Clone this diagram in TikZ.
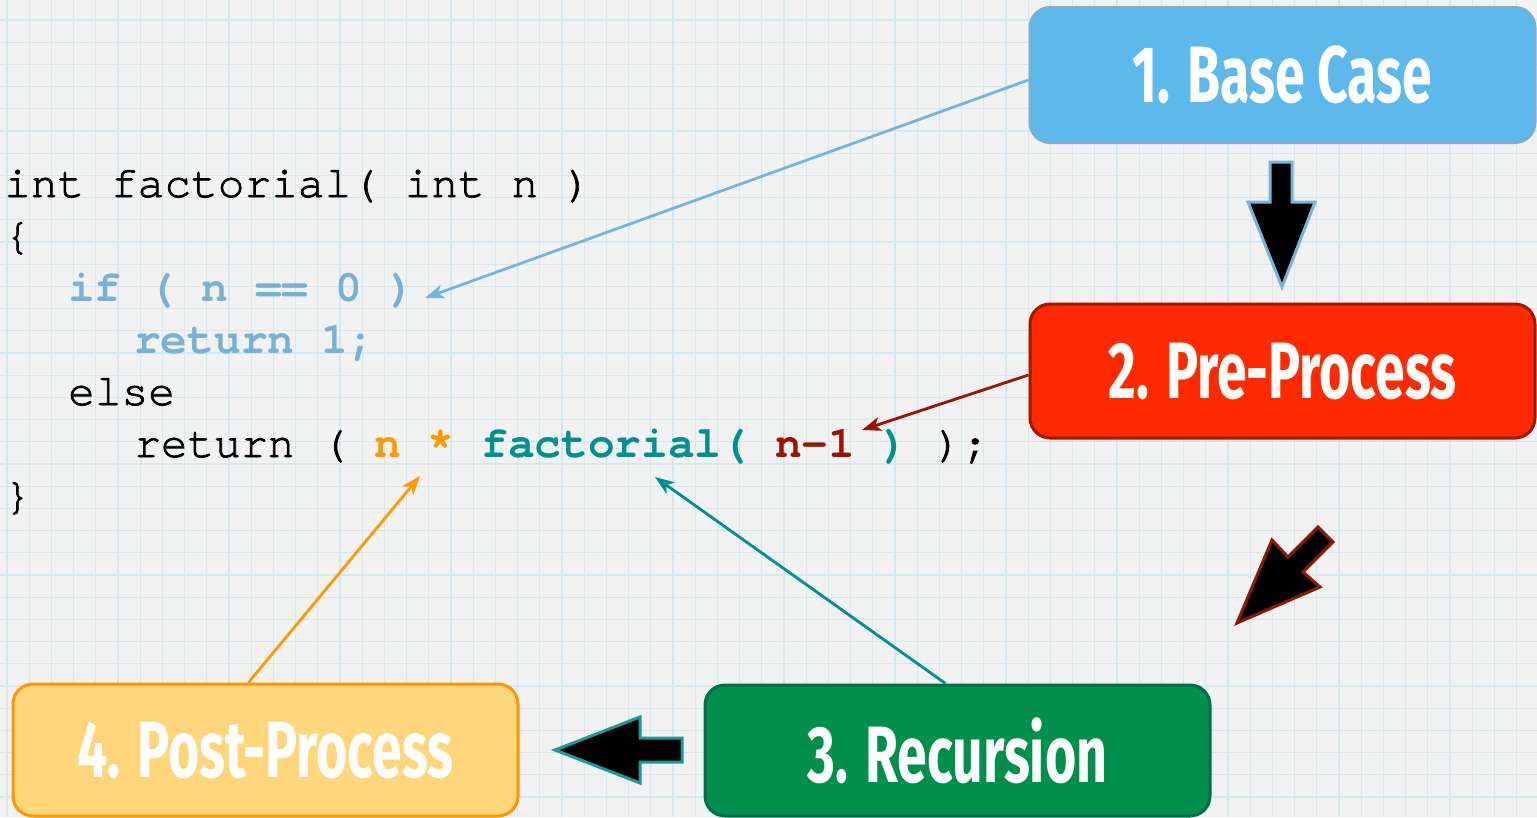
\documentclass[tikz,border=0pt]{standalone}
\usepackage{fontspec}
\setmonofont{TeX Gyre Cursor}[UprightFeatures={FakeBold=1.6}]
\newfontfamily\ttlfont{Fira Sans}[UprightFont=* Bold]
\usetikzlibrary{arrows.meta}
\definecolor{bgc}{HTML}{F2F2F2}
\definecolor{gridc}{HTML}{D6E7EE}
\definecolor{codeblue}{HTML}{78B1D6}
\definecolor{codeorange}{HTML}{FF9900}
\definecolor{codeteal}{HTML}{00918E}
\definecolor{codered}{HTML}{9B1400}
\definecolor{b1fill}{HTML}{5DB9EC}
\definecolor{b1draw}{HTML}{7AAFD0}
\definecolor{b2fill}{HTML}{FF2A00}
\definecolor{b2draw}{HTML}{A01800}
\definecolor{b3fill}{HTML}{008F4C}
\definecolor{b3draw}{HTML}{00704A}
\definecolor{b4fill}{HTML}{FFD67C}
\definecolor{b4draw}{HTML}{FF9500}
\definecolor{arrblue}{HTML}{7AB3D8}
\definecolor{arrred}{HTML}{8B1A00}
\definecolor{arrteal}{HTML}{1A9A96}
\newcommand{\ttl}[1]{\scalebox{0.67}[1]{\ttlfont\fontsize{80}{80}\selectfont #1}}
\begin{document}
\begin{tikzpicture}[x=1pt,y=-1pt,
  stepbox/.style={rounded corners=20pt, line width=3pt, minimum width=505pt, inner sep=0pt, text=white},
  codeline/.style={anchor=base west, inner sep=0pt, font=\ttfamily\fontsize{44.5}{52}\selectfont},
  conn/.style={line width=2.8pt, -{Stealth[length=19pt,width=14pt,inset=5pt]}},
  bigarrow/.style={fill=black, line width=3pt, line join=miter}
]
\useasboundingbox (0,0) rectangle (1537,817);
\fill[bgc] (0,0) rectangle (1537,817);
\foreach \i in {0,...,69} \draw[gridc, line width=1.2pt] ({7+22.2*\i},0) -- ({7+22.2*\i},817);
\foreach \j in {0,...,37} \draw[gridc, line width=1.2pt] (0,{-2.2+22.2*\j}) -- (1537,{-2.2+22.2*\j});

% code
\node[codeline] (l1) at (4,197) {int factorial( int n )};
\node[codeline] (l2) at (4,249) {\{};
\node[codeline, text=codeblue] (l3) at (68,301) {\bfseries if ( n == 0 )};
\node[codeline, text=codeblue] (l4) at (134,353) {\bfseries return 1;};
\node[codeline] (l5) at (68,405) {else};
\node[codeline] (l6) at (134,457) {return ( \textbf{\color{codeorange}n * }\textbf{\color{codeteal}factorial( }\textbf{\color{codered}n-1 }\textbf{\color{codeteal})} );};
\node[codeline] (l7) at (4,509) {\}};

% boxes
\node[stepbox, fill=b1fill, draw=b1draw, minimum height=135pt] (b1) at (1282.5,75) {\ttl{1. Base Case}};
\node[stepbox, fill=b2fill, draw=b2draw, minimum height=134pt] (b2) at (1282.5,371) {\ttl{2. Pre-Process}};
\node[stepbox, fill=b3fill, draw=b3draw, minimum height=131pt] (b3) at (957.5,750.5) {\ttl{3. Recursion}};
\node[stepbox, fill=b4fill, draw=b4draw, minimum height=132pt] (b4) at (265.5,750) {\ttl{4. Post-Process}};

% connector targets
\coordinate (t1) at (425,298);
\coordinate (t2) at (862,430);
\coordinate (t3) at (655,477);
\coordinate (t4) at (420,476);
\draw[conn, arrblue] ([yshift=-5pt]b1.west) -- (t1);
\draw[conn, codered] ([yshift=-4pt]b2.west) -- (t2);
\draw[conn, codeteal] ([xshift=-12pt]b3.north) -- (t3);
\draw[conn, codeorange] ([xshift=-17pt]b4.north) -- (t4);

% big arrows
\draw[bigarrow, draw=arrblue] (1270,162) -- (1292,162) -- (1292,202) -- (1315,202) -- (1282,287) -- (1248,202) -- (1270,202) -- cycle;
\draw[bigarrow, draw=arrred] (1237,623) -- (1272,540) -- (1288,557) -- (1318,527) -- (1333,542) -- (1303,572) -- (1320,587) -- cycle;
\draw[bigarrow, draw=arrteal] (555,750) -- (640,717) -- (640,738) -- (682,738) -- (682,762) -- (640,762) -- (640,783) -- cycle;
\end{tikzpicture}
\end{document}
